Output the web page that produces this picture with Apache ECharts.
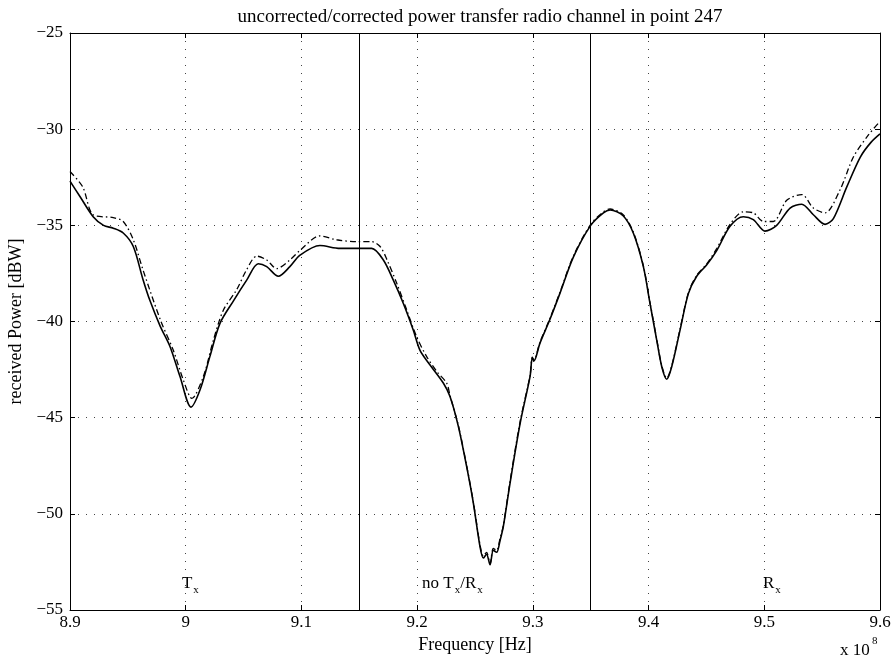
<!DOCTYPE html>
<html>
<head>
<meta charset="utf-8">
<script src="https://cdn.jsdelivr.net/npm/echarts@6/dist/echarts.min.js"></script>
<style>html,body{margin:0;padding:0;background:#fff}#c{width:895px;height:662px}</style>
</head>
<body>
<div id="c"></div>
<script>
// Frequency in units of 1e8 Hz, power in dBW
var solidFreq = [8.900,8.9086,8.920,8.929,8.9374,8.946,8.9547,8.963,8.969,8.978,8.9864,8.995,9.0046,9.0124,9.021,9.0296,9.041,9.0527,9.0627,9.070,9.080,9.090,9.0988,9.116,9.1333,9.1506,9.1607,9.1708,9.1794,9.188,9.1967,9.2025,9.211,9.2226,9.2284,9.2356,9.2428,9.2486,9.2543,9.2572,9.2600,9.2630,9.2658,9.2687,9.2716,9.2745,9.2803,9.289,9.2976,9.2995,9.3010,9.306,9.3147,9.3233,9.335,9.350,9.361,9.3667,9.378,9.3868,9.3955,9.4012,9.407,9.4114,9.4157,9.420,9.4272,9.4344,9.4416,9.4503,9.459,9.4704,9.4819,9.4905,9.5006,9.5107,9.5223,9.5324,9.5424,9.5525,9.5597,9.5713,9.583,9.592,9.600];
var solidPower = [-32.7,-33.5,-34.55,-35.0,-35.15,-35.4,-36.1,-37.8,-38.9,-40.25,-41.3,-42.85,-44.45,-43.55,-41.8,-40.1,-38.95,-37.85,-37.0,-37.15,-37.65,-37.15,-36.55,-36.05,-36.2,-36.2,-36.2,-36.8,-37.85,-39.05,-40.45,-41.5,-42.25,-43.2,-43.9,-45.45,-47.55,-49.45,-51.7,-52.3,-52.1,-52.65,-51.9,-52.0,-51.4,-50.65,-48.4,-45.3,-42.85,-41.9,-42.05,-41.15,-39.9,-38.55,-36.65,-35.0,-34.35,-34.2,-34.5,-35.4,-37.15,-39.05,-40.95,-42.35,-43.0,-42.35,-40.45,-38.55,-37.65,-37.05,-36.3,-35.05,-34.55,-34.7,-35.3,-35.0,-34.1,-33.9,-34.45,-34.95,-34.65,-33.0,-31.45,-30.7,-30.25];

var dashFreq = [8.900,8.911,8.920,8.9374,8.946,8.9547,8.963,8.978,8.9893,8.998,9.0053,9.0153,9.024,9.0326,9.044,9.0527,9.0614,9.070,9.0786,9.090,9.0988,9.116,9.1304,9.1478,9.1607,9.168,9.174,9.1823,9.191,9.1996,9.208,9.217,9.2255,9.2284,9.2356,9.2428,9.2486,9.2543,9.2572,9.2600,9.2630,9.2658,9.2687,9.2716,9.2745,9.2803,9.289,9.2976,9.2995,9.3010,9.306,9.3147,9.3233,9.335,9.350,9.361,9.3667,9.378,9.3868,9.3955,9.4012,9.407,9.4114,9.4157,9.420,9.4272,9.4344,9.4416,9.4503,9.459,9.4704,9.4819,9.4905,9.4992,9.5078,9.5194,9.5324,9.5424,9.5525,9.5655,9.577,9.590,9.600];
var dashPower = [-32.2,-33.0,-34.45,-34.6,-34.8,-35.75,-37.3,-39.9,-41.5,-43.05,-44.0,-42.85,-40.95,-39.4,-38.35,-37.3,-36.6,-36.8,-37.25,-36.8,-36.3,-35.55,-35.75,-35.85,-35.85,-36.1,-36.8,-38.0,-39.4,-40.8,-41.8,-42.6,-43.2,-43.85,-45.4,-47.5,-49.4,-51.6,-52.2,-52.0,-52.6,-51.8,-51.9,-51.3,-50.6,-48.3,-45.2,-42.8,-41.85,-42.0,-41.1,-39.85,-38.5,-36.6,-34.95,-34.3,-34.15,-34.45,-35.35,-37.1,-39.0,-40.9,-42.3,-42.95,-42.3,-40.4,-38.5,-37.6,-37.0,-36.2,-34.95,-34.3,-34.35,-34.8,-34.8,-33.7,-33.4,-34.1,-34.35,-33.15,-31.45,-30.3,-29.6];

var dividers = [9.15, 9.35];
var xTicks = ['8.9','9','9.1','9.2','9.3','9.4','9.5','9.6'];
var yTicks = ['-55','-50','-45','-40','-35','-30','-25'];
var regionLabels = [
  {x: 9.004, y: -53.6, main: 'T', sub: 'x'},
  {x: 9.2305, y: -53.6, text: 'no T_x/R_x'},
  {x: 9.5065, y: -53.6, main: 'R', sub: 'x'}
];

function zip(a, b) { return a.map(function (v, i) { return [v, b[i]]; }); }

var FONT = '"Liberation Serif", "DejaVu Serif", serif';
var FS = 17;
var chart = echarts.init(document.getElementById('c'), null, {renderer: 'canvas'});

var gridStyle = {show: true, lineStyle: {color: '#444', width: 1, type: [1, 7]}};

var labelData = regionLabels.map(function (r) { return [r.x, r.y]; });

chart.setOption({
  animation: false,
  backgroundColor: '#fff',
  title: {
    text: 'uncorrected/corrected power transfer radio channel in point 247',
    left: 475, top: 3, textAlign: 'center',
    textStyle: {fontFamily: FONT, fontSize: 19, fontWeight: 'normal', color: '#000'}
  },
  grid: {left: 70, right: 15, top: 33, bottom: 52, show: false, containLabel: false, outerBoundsMode: 'none'},
  xAxis: [{
    type: 'value', min: 8.9, max: 9.6, interval: 0.1,
    name: 'Frequency [Hz]', nameLocation: 'middle', nameGap: 20,
    nameTextStyle: {fontFamily: FONT, fontSize: 18, color: '#000'},
    axisLine: {show: true, onZero: false, lineStyle: {color: '#000', width: 1}},
    axisTick: {show: true, inside: true, length: 5, lineStyle: {color: '#000'}},
    axisLabel: {
      margin: 4, fontFamily: FONT, fontSize: FS, color: '#000',
      formatter: function (v) { var i = Math.round((v - 8.9) * 10); return xTicks[i] !== undefined ? xTicks[i] : ''; }
    },
    splitLine: gridStyle
  }, {
    type: 'value', min: 8.9, max: 9.6, interval: 0.1, position: 'top',
    axisLine: {show: true, onZero: false, lineStyle: {color: '#000', width: 1}},
    axisTick: {show: true, inside: true, length: 5, lineStyle: {color: '#000'}},
    axisLabel: {show: false}, splitLine: {show: false}
  }],
  yAxis: [{
    type: 'value', min: -55, max: -25, interval: 5,
    name: 'received Power [dBW]', nameLocation: 'middle', nameGap: 42,
    nameTextStyle: {fontFamily: FONT, fontSize: 18, color: '#000'},
    axisLine: {show: true, onZero: false, lineStyle: {color: '#000', width: 1}},
    axisTick: {show: true, inside: true, length: 5, lineStyle: {color: '#000'}},
    axisLabel: {
      margin: 7, fontFamily: FONT, fontSize: FS, color: '#000',
      formatter: function (v) { var i = Math.round((v + 55) / 5); return (yTicks[i] || '').replace('-', '\u2212'); }
    },
    splitLine: gridStyle
  }, {
    type: 'value', min: -55, max: -25, interval: 5, position: 'right',
    axisLine: {show: true, onZero: false, lineStyle: {color: '#000', width: 1}},
    axisTick: {show: true, inside: true, length: 5, lineStyle: {color: '#000'}},
    axisLabel: {show: false}, splitLine: {show: false}
  }],
  series: [{
    name: 'corrected', type: 'line', data: zip(dashFreq, dashPower),
    showSymbol: false, smooth: 0.3,
    lineStyle: {color: '#000', width: 1.3, type: [6, 3, 1.5, 3]}, z: 3
  }, {
    name: 'uncorrected', type: 'line', data: zip(solidFreq, solidPower),
    showSymbol: false, smooth: 0.3,
    lineStyle: {color: '#000', width: 1.6}, z: 4,
    markLine: {
      silent: true, symbol: 'none', label: {show: false},
      lineStyle: {color: '#000', width: 1, type: 'solid'},
      data: dividers.map(function (d) { return {xAxis: d}; })
    }
  }, {
    name: 'labels', type: 'scatter', symbolSize: 0, data: labelData, z: 5,
    itemStyle: {opacity: 1, color: '#000'},
    label: {
      show: true, position: 'inside', color: '#000', opacity: 1,
      formatter: function (p) {
        var r = regionLabels[p.dataIndex];
        if (r.text) return '{n|no T}{s|x}{n|/R}{s|x}';
        return '{n|' + r.main + '}{s|' + r.sub + '}';
      },
      rich: {
        n: {fontFamily: FONT, fontSize: 17, color: '#000'},
        s: {fontFamily: FONT, fontSize: 11, color: '#000', padding: [14, 0, 0, 1]}
      }
    }
  }],
  graphic: [{
    type: 'text', left: 840, top: 642,
    style: {text: 'x 10', fontFamily: FONT, fontSize: 17, fill: '#000'}
  }, {
    type: 'text', left: 872, top: 636,
    style: {text: '8', fontFamily: FONT, fontSize: 11, fill: '#000'}
  }]
});
</script>
</body>
</html>
